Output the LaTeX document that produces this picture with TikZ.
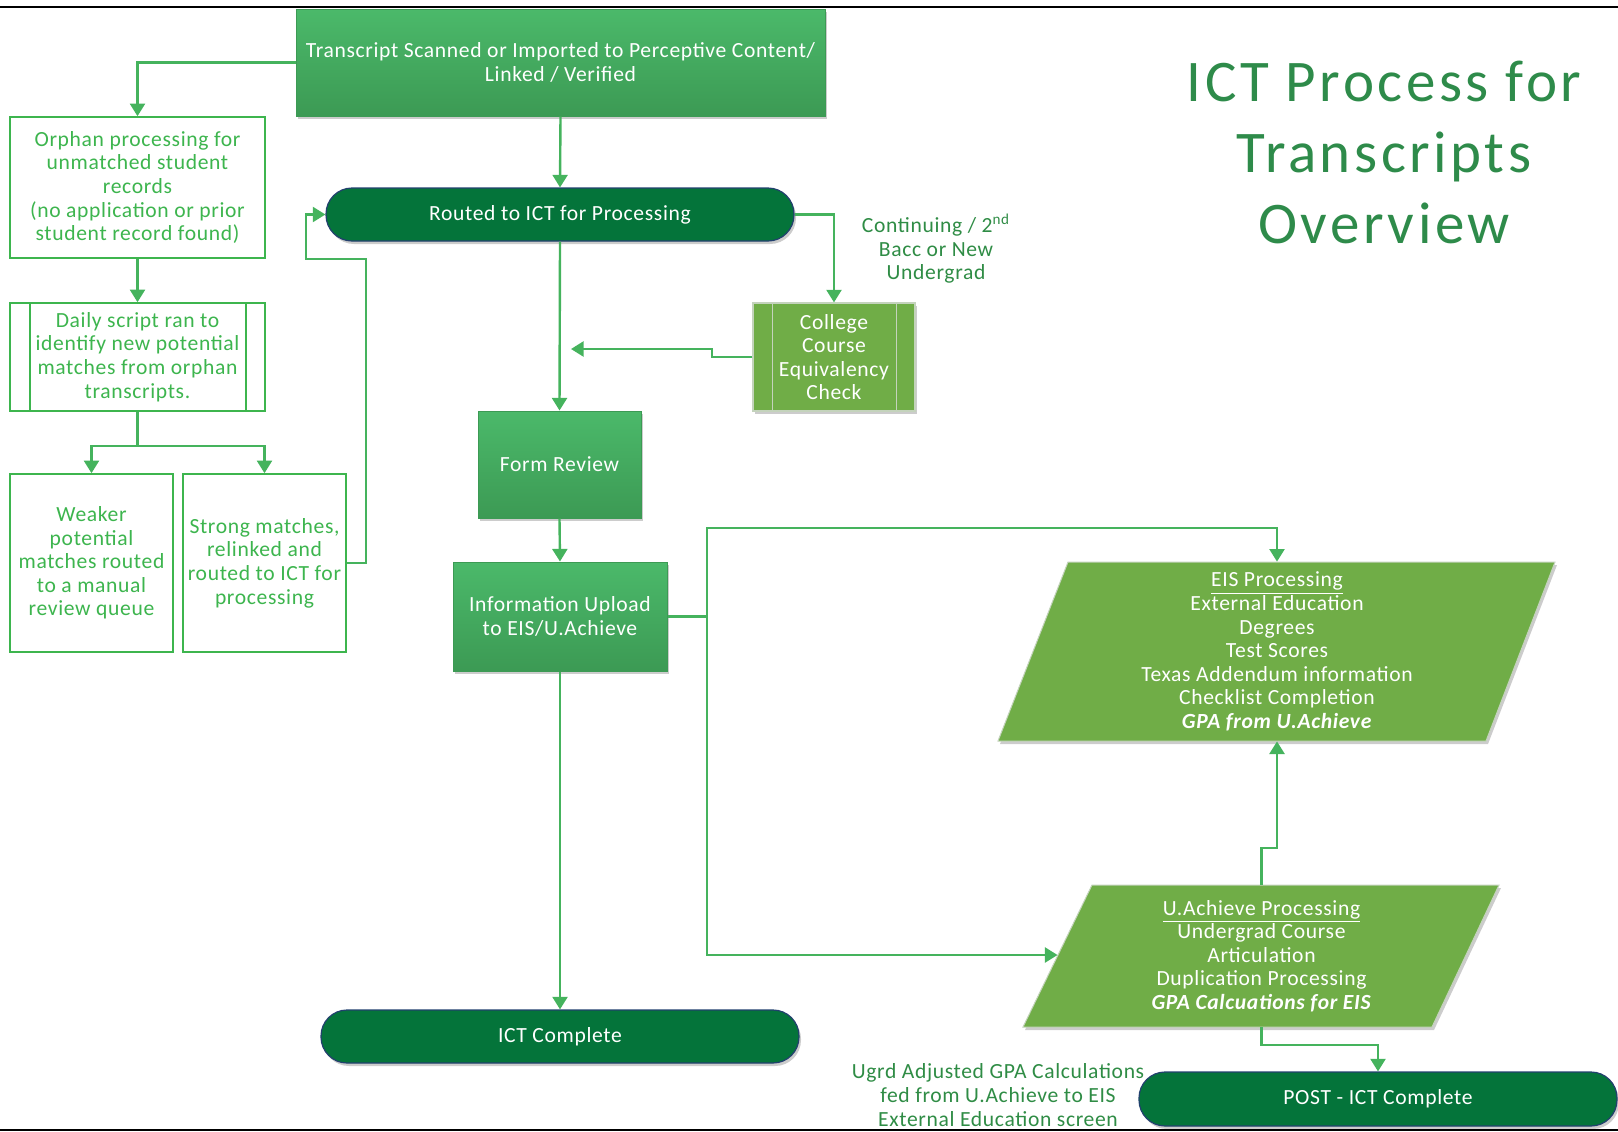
\documentclass[tikz,border=0pt]{standalone}
\usepackage{fontspec}
\setmainfont{Carlito}[LetterSpace=3]
\newfontfamily\titlefont{Carlito}[LetterSpace=6]
\usetikzlibrary{arrows.meta,shadows,calc}
\definecolor{lineg}{HTML}{45B35D}
\definecolor{boxg}{HTML}{3DB54E}
\definecolor{darkg}{HTML}{04743A}
\definecolor{lightg}{HTML}{70AD47}
\definecolor{labelg}{HTML}{2F8C45}
\definecolor{titleg}{HTML}{2E8B4A}
\definecolor{gradtop}{HTML}{4BB96A}
\definecolor{gradbot}{HTML}{3C9A54}
\definecolor{navy}{HTML}{22406E}
\definecolor{greyedge}{HTML}{C4D3BC}
\begin{document}
\begin{tikzpicture}[x=0.5pt,y=-0.5pt,
  txt/.style={font=\fontsize{10.8}{11.8}\selectfont, align=center, inner sep=0pt},
  outbox/.style={txt, draw=boxg, line width=0.8pt, fill=white, text=boxg},
  gradbox/.style={txt, draw=gradbot, line width=0.5pt, top color=gradtop, bottom color=gradbot, text=white,
    drop shadow={shadow xshift=1pt, shadow yshift=-1.5pt, opacity=0.2, fill=black}},
  termbox/.style={txt, draw=navy, line width=0.6pt, fill=darkg, text=white, rounded corners=13pt,
    minimum height=26.5pt,
    drop shadow={shadow xshift=1pt, shadow yshift=-1.5pt, opacity=0.2, fill=black}},
  ln/.style={draw=lineg, line width=1.2pt},
  arr/.style={ln, -{Triangle[length=6.3pt,width=7.5pt]}},
  lbl/.style={txt, text=labelg}]
\useasboundingbox (0,0) rectangle (1618,1131);
\draw[black, line width=0.9pt] (0,7) -- (1618,7);
\draw[black, line width=0.9pt] (0,1130) -- (1618,1130);

% title
\node[font=\titlefont\fontsize{29.5}{35.5}\selectfont, align=center, text=titleg, inner sep=0pt] (title) at (1384,152)
  {ICT Process for\\Transcripts\\Overview};

% main column
\node[gradbox, minimum width=264.5pt, minimum height=53.5pt] (trans) at (560.5,62.5)
  {Transcript Scanned or Imported to Perceptive Content/\\Linked / Verified};
\node[termbox, minimum width=234pt] (routed) at (560,214.5) {Routed to ICT for Processing};
\node[gradbox, minimum width=81.5pt, minimum height=53.5pt] (form) at (559.5,464.5) {Form Review};
\node[gradbox, minimum width=107pt, minimum height=54.5pt] (info) at (560,616.5)
  {Information Upload\\to EIS/U.Achieve};
\node[termbox, minimum width=239pt] (ictc) at (560,1036.5) {ICT Complete};

% left column
\node[outbox, minimum width=127.5pt, minimum height=70.5pt] (orphan) at (137.5,187.5)
  {Orphan processing for\\unmatched student\\records\\(no application or prior\\student record found)};
\node[outbox, minimum width=127.5pt, minimum height=54pt] (daily) at (137.5,357)
  {Daily script ran to\\identify new potential\\matches from orphan\\transcripts.};
\draw[boxg, line width=0.8pt] ([xshift=10.5pt]daily.north west) -- ([xshift=10.5pt]daily.south west);
\draw[boxg, line width=0.8pt] ([xshift=-10pt]daily.north east) -- ([xshift=-10pt]daily.south east);
\node[outbox, minimum width=81.5pt, minimum height=89pt] (weaker) at (91.5,563)
  {Weaker\\potential\\matches routed\\to a manual\\review queue};
\node[outbox, minimum width=81.5pt, minimum height=89pt] (strong) at (264.5,563)
  {Strong matches,\\relinked and\\routed to ICT for\\processing};

% college check
\node[txt, draw=greyedge, line width=0.6pt, fill=lightg, text=white, minimum width=81pt, minimum height=54pt,
  drop shadow={shadow xshift=1pt, shadow yshift=-1.5pt, opacity=0.2, fill=black}] (college) at (834,357)
  {College\\Course\\Equivalency\\Check};
\draw[greyedge, line width=0.6pt] ([xshift=10pt]college.north west) -- ([xshift=10pt]college.south west);
\draw[greyedge, line width=0.6pt] ([xshift=-9.5pt]college.north east) -- ([xshift=-9.5pt]college.south east);
\node[lbl] (cont) at (936,249) {Continuing / 2\textsuperscript{nd}\\Bacc or New\\Undergrad};

% EIS parallelogram
\path[fill=lightg, draw=greyedge, line width=0.5pt,
  drop shadow={shadow xshift=1pt, shadow yshift=-1.5pt, opacity=0.2, fill=black}]
  (1068,562) -- (1555,562) -- (1486,741) -- (998,741) -- cycle;
\node[txt, text=white, minimum height=89.5pt] (eis) at (1277,651.5)
  {\underline{EIS Processing}\\External Education\\Degrees\\Test Scores\\Texas Addendum information\\Checklist Completion\\\textbf{\textit{GPA from U.Achieve}}};

% U.Achieve parallelogram
\path[fill=lightg, draw=greyedge, line width=0.5pt,
  drop shadow={shadow xshift=1pt, shadow yshift=-1.5pt, opacity=0.2, fill=black}]
  (1092,885) -- (1499,885) -- (1432,1027) -- (1023,1027) -- cycle;
\node[txt, text=white, minimum height=71pt] (ua) at (1261.5,956)
  {\underline{U.Achieve Processing}\\Undergrad Course\\Articulation\\Duplication Processing\\\textbf{\textit{GPA Calcuations for EIS}}};
\coordinate (uawest) at (1057.5,955);

\node[termbox, minimum width=239pt, minimum height=27pt] (post) at (1378,1099) {POST - ICT Complete};
\node[lbl] (ugrd) at (998,1095) {Ugrd Adjusted GPA Calculations\\fed from U.Achieve to EIS\\External Education screen};

% connectors
\draw[arr] (trans.west) -| (orphan.north);
\draw[arr] (trans.south) -- (routed.north);
\draw[arr] (orphan.south) -- (daily.north);
\coordinate (split) at (137.5,446);
\draw[ln] (daily.south) -- (split);
\draw[arr] (split) -| (weaker.north);
\draw[arr] (split) -| (strong.north);
\coordinate (r1) at (366,259);
\coordinate (r2) at (306,259);
\draw[arr] (strong.east) -| (r1) -- (r2) |- (routed.west);
\draw[arr] (routed.east) -| (college.north);
\coordinate (c1) at (712,357);
\coordinate (c2) at (712,349);
\coordinate (cend) at (571,349);
\draw[arr] (college.west) -- (c1) -- (c2) -- (cend);
\draw[arr] (routed.south) -- (form.north);
\draw[arr] (form.south) -- (info.north);
\draw[arr] (info.south) -- (ictc.north);
\coordinate (j1) at (707,616.5);
\coordinate (j2) at (1277,528);
\draw[ln] (info.east) -- (j1);
\draw[arr] (j1) |- (j2) -- (eis.north);
\draw[arr] (j1) |- (uawest);
\coordinate (u1) at (1261.5,848);
\draw[arr] (ua.north) -- (u1) -| (eis.south);
\coordinate (u2) at (1261.5,1045);
\draw[arr] (ua.south) -- (u2) -| (post.north);
\end{tikzpicture}
\end{document}
